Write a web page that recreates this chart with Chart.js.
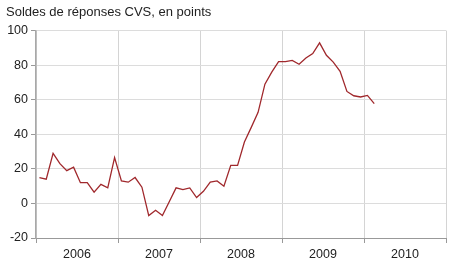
<!DOCTYPE html>
<html>
<head>
<meta charset="utf-8">
<script src="https://cdn.jsdelivr.net/npm/chart.js@4/dist/chart.umd.min.js"></script>
<style>
  html, body { margin: 0; padding: 0; background: #fff; }
  #wrap { width: 450px; height: 279px; }
</style>
</head>
<body>
<div id="wrap"><canvas id="soldes"></canvas></div>
<script>
// soldes mensuels CVS, de janvier 2006 a fevrier 2010
var years = ["2006", "2007", "2008", "2009", "2010"];
var soldes = [
  15, 14, 29, 23, 19, 21, 12, 12, 6.5, 11, 9, 26.5,      // 2006
  13, 12.3, 15, 9.4, -7, -4, -7, 1, 9, 8, 9, 3.4,        // 2007
  7, 12.3, 13, 10, 22, 22, 35.5, 44, 52.7, 69, 76, 82,   // 2008
  82, 82.8, 80.5, 84.2, 86.7, 92.9, 85.7, 81.8, 76.4, 64.8, 62.3, 61.6, // 2009
  62.5, 57.7                                             // 2010
];
var yTicks = [-20, 0, 20, 40, 60, 80, 100];

var nbMois = years.length * 12;
var points = soldes.map(function (v, i) { return { x: i + 0.5, y: v }; });

Chart.defaults.font.family = "'Liberation Sans', Arial, sans-serif";
Chart.defaults.font.size = 12;
Chart.defaults.color = "#222";

new Chart(document.getElementById("soldes"), {
  type: 'line',
  data: {
    datasets: [{
      data: points,
      borderColor: "#a0282c",
      borderWidth: 1.3,
      pointRadius: 0,
      tension: 0,
      fill: false
    }]
  },
  options: {
    responsive: true,
    maintainAspectRatio: false,
    animation: false,
    layout: { padding: { left: 6, right: 2, top: 0, bottom: 0 } },
    plugins: {
      legend: { display: false },
      tooltip: { enabled: false },
      title: {
        display: true,
        text: 'Soldes de réponses CVS, en points',
        align: 'start',
        color: "#222",
        font: { size: 13, weight: 'normal' },
        padding: { top: 4.5, bottom: 10.5 }
      }
    },
    scales: {
      x: {
        type: 'linear',
        min: 0,
        max: nbMois,
        afterBuildTicks: function (s) {
          var t = [];
          for (var i = 0; i <= nbMois; i += 6) t.push({ value: i });
          s.ticks = t;
        },
        afterFit: function (s) { s.height = 41; },
        grid: {
          color: function (c) { return c.tick && c.tick.value % 12 === 0 ? "#d4d4d4" : "rgba(0,0,0,0)"; },
          tickColor: function (c) { return c.tick && c.tick.value % 12 === 0 ? "#999" : "rgba(0,0,0,0)"; },
          tickLength: 5
        },
        border: { color: "#999", width: 1 },
        ticks: {
          maxRotation: 0,
          autoSkip: false,
          padding: 4,
          font: { size: 12.5 },
          callback: function (v) {
            return v % 12 === 6 ? years[(v - 6) / 12] : '';
          }
        }
      },
      y: {
        min: yTicks[0],
        max: yTicks[yTicks.length - 1],
        afterBuildTicks: function (s) {
          s.ticks = yTicks.map(function (v) { return { value: v }; });
        },
        afterFit: function (s) { s.width = 30; },
        grid: { color: "#dcdcdc", tickColor: "#999", tickLength: 5 },
        border: { color: "#a8a8a8", width: 1.5 },
        ticks: { padding: 3, font: { size: 12.5 } }
      }
    }
  }
});
</script>
</body>
</html>
